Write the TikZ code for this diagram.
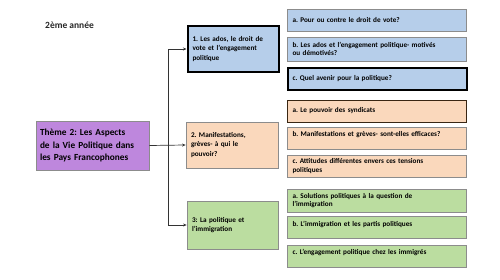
\documentclass[tikz,border=0pt]{standalone}
\usepackage{fontspec}
\setmainfont{Carlito}
\usepackage{xcolor}
\usetikzlibrary{arrows.meta,positioning}
\definecolor{themepurple}{RGB}{190,135,221}
\definecolor{votblue}{RGB}{182,206,234}
\definecolor{manpeach}{RGB}{250,216,188}
\definecolor{immgreen}{RGB}{187,221,160}
\definecolor{boxgray}{RGB}{140,140,140}
\frenchspacing

\begin{document}
\begin{tikzpicture}[
    x=1pt, y=-1pt,
    theme/.style={draw=boxgray, line width=0.8pt, fill=themepurple, text width=105pt,
                  inner xsep=4pt, minimum height=49pt, align=left,
                  font=\bfseries\fontsize{9.3}{12.5}\selectfont},
    part/.style={draw=boxgray, line width=0.8pt, text width=81pt, inner xsep=5pt,
                 minimum height=46pt, align=left, font=\bfseries\fontsize{7.2}{9.5}\selectfont},
    topic/.style={draw=boxgray, line width=0.8pt, text width=169pt, inner xsep=5pt,
                  minimum height=22pt, align=left, font=\bfseries\fontsize{7.2}{8.5}\selectfont},
    marked/.style={draw=black, line width=2pt},
    raised/.style={text depth=8pt},
    arrow/.style={-{Stealth[length=3.5pt,width=3pt]}, line width=0.7pt, draw=black!80}
]
\useasboundingbox (0,0) rectangle (500,280);
\node[anchor=west, font=\bfseries\fontsize{9.5}{11}\selectfont, text=black!85, inner sep=0pt] (year) at (45,25) {2ème année};
\node[theme] (theme) at (92.5,145.5) {Thème 2: Les Aspects\\de la Vie Politique dans\\les Pays Francophones};
% the three parts
\node[part, fill=votblue, marked] (vote) at (233,49) {1. Les ados, le droit de\\vote et l’engagement\\politique};
\node[part, fill=manpeach, text width=82pt] (manif) at (232,145) {2. Manifestations,\\grèves- à qui le\\pouvoir?};
\node[part, fill=immgreen, minimum height=48pt] (immig) at (232.5,225) {3: La politique et\\l’immigration};
% questions
\node[topic, fill=votblue] (vote a) at (377,20) {a. Pour ou contre le droit de vote?};
\node[topic, fill=votblue, minimum height=24pt] (vote b) at (377,49) {b. Les ados et l’engagement politique- motivés\\ou démotivés?};
\node[topic, fill=votblue, marked] (vote c) at (377,79) {c. Quel avenir pour la politique?};
\node[topic, fill=manpeach, draw=black!70!brown] (manif a) at (377,111) {a. Le pouvoir des syndicats};
\node[topic, fill=manpeach, raised] (manif b) at (377,138) {b. Manifestations et grèves- sont-elles efficaces?};
\node[topic, fill=manpeach] (manif c) at (377,166) {c. Attitudes différentes envers ces tensions\\politiques};
\node[topic, fill=immgreen, minimum height=23pt] (immig a) at (377,200.5) {a. Solutions politiques à la question de\\l’immigration};
\node[topic, fill=immgreen, raised] (immig b) at (377,227.5) {b. L’immigration et les partis politiques};
\node[topic, fill=immgreen, raised] (immig c) at (377,256) {c. L’engagement politique chez les immigrés};
% connectors
\coordinate (trunk) at (168,145);
\draw[arrow] (theme.east) -- (manif.west);
\draw[arrow] (trunk) |- (vote.west);
\draw[arrow] (trunk) |- (immig.west);
\end{tikzpicture}
\end{document}
